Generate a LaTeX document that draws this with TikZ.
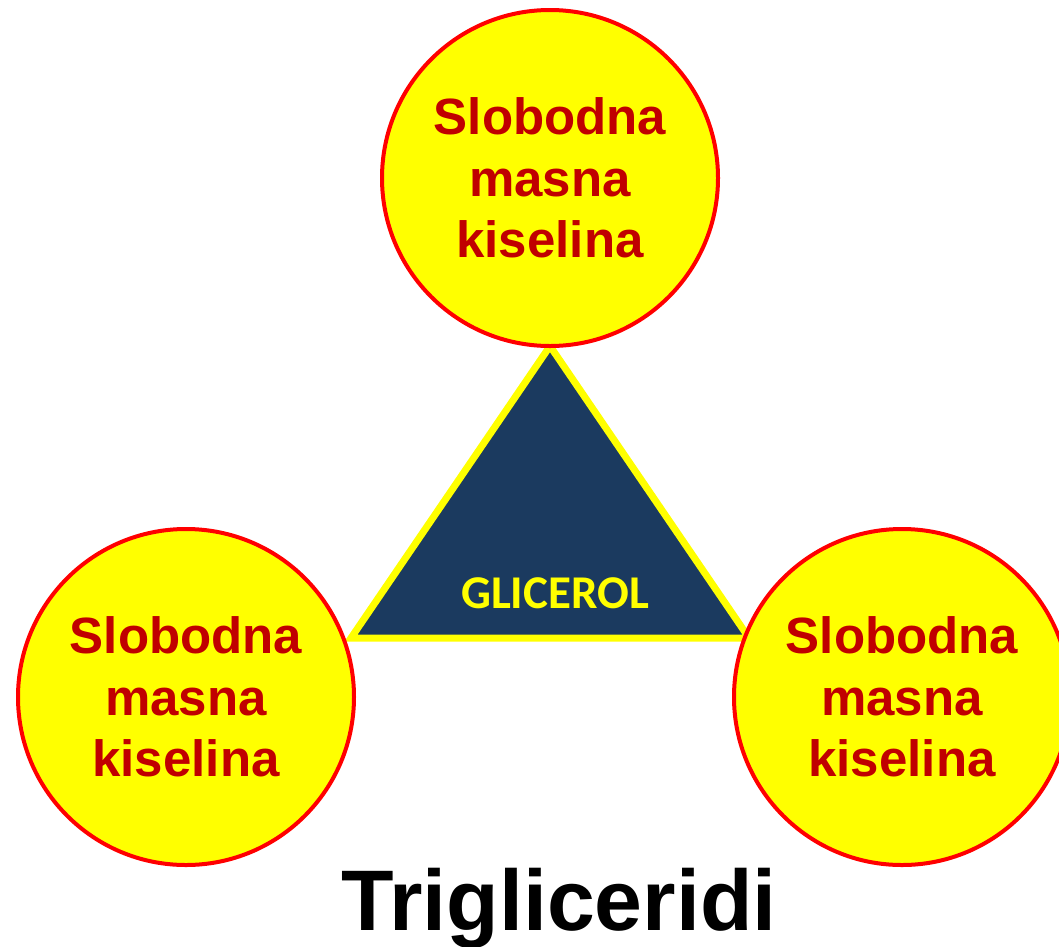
\documentclass[tikz,border=0pt]{standalone}
\usepackage{fontspec}
\setmainfont{Liberation Sans}
\newfontfamily\calib{Carlito}
\definecolor{circred}{HTML}{FF0000}
\definecolor{circyel}{HTML}{FFFF00}
\definecolor{txtred}{HTML}{C00000}
\definecolor{navy}{HTML}{1B3A5F}
\tikzset{
  acid/.style={circle, draw=circred, fill=circyel, line width=4pt, minimum size=336pt, inner sep=0pt,
    text=txtred, align=center, font=\bfseries\fontsize{51}{61.5}\selectfont},
  glyc/.style={draw=circyel, fill=navy, line width=7pt, line join=miter},
}
\begin{document}
\begin{tikzpicture}[x=1pt,y=-1pt]
\useasboundingbox (0,0) rectangle (1059,946);
\fill[white] (0,0) rectangle (1059,946);
\coordinate (apex) at (550,346);
\coordinate (bl) at (351,638);
\coordinate (br) at (749,638);
\draw[glyc] (apex) -- (bl) -- (br) -- cycle;
\node[anchor=base, text=circyel, font=\calib\bfseries\fontsize{47}{50}\selectfont] (gl) at (555,608) {GLICEROL};
\node[acid] (top) at (550,178) {Slobodna\\masna\\kiselina};
\node[acid] (left) at (186,697) {Slobodna\\masna\\kiselina};
\node[acid] (right) at (902,697) {Slobodna\\masna\\kiselina};
\node[anchor=base, font=\bfseries\fontsize{86}{90}\selectfont] (title) at (559,930) {Trigliceridi};
\end{tikzpicture}
\end{document}
